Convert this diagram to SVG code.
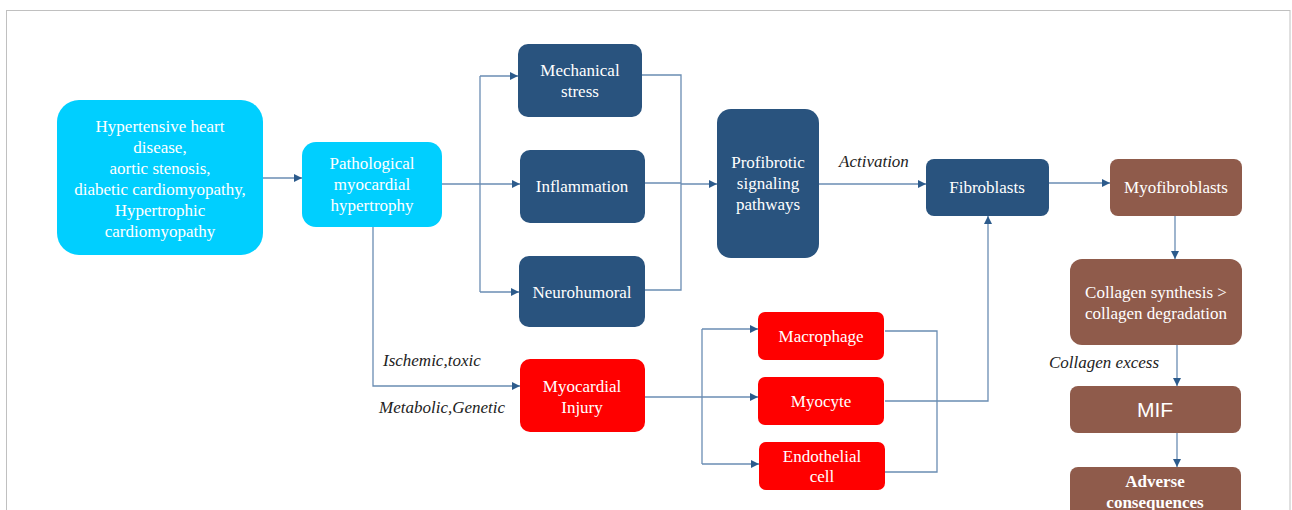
<svg xmlns="http://www.w3.org/2000/svg" width="1292" height="510" viewBox="0 0 1292 510">
<defs>
<marker id="ah" viewBox="0 0 10 10" refX="10" refY="5" markerWidth="8" markerHeight="8" markerUnits="userSpaceOnUse" orient="auto">
<path d="M0,0 L10,5 L0,10 z" fill="#2c5b8c"/>
</marker>
<style>
.t{font-family:"Liberation Serif","Times New Roman",serif;font-size:17px;fill:#fff;text-anchor:middle}
.it{font-family:"Liberation Serif","Times New Roman",serif;font-size:17px;font-style:italic;fill:#222}
.cy{fill:#00cfff}
.db{fill:#29537e}
.rd{fill:#ff0000}
.br{fill:#8f5b4b}
.c{fill:none;stroke:#6a8db3;stroke-width:1.3}
.a{marker-end:url(#ah)}
</style>
</defs>
<rect x="6.5" y="10.5" width="1283.5" height="510" fill="#fff" stroke="#c0c0c0" stroke-width="1"/>

<g id="connectors">
<path class="c a" d="M263,178 L302,178"/>
<path class="c" d="M442,184 L480,184"/>
<path class="c" d="M480,76 L480,292"/>
<path class="c a" d="M480,76 L518,76"/>
<path class="c a" d="M480,184 L520,184"/>
<path class="c a" d="M480,292 L519,292"/>
<path class="c" d="M642,75 L681,75 L681,290 L645,290"/>
<path class="c" d="M645,183 L681,183"/>
<path class="c a" d="M681,184 L717,184"/>
<path class="c a" d="M819,184 L926,184"/>
<path class="c a" d="M1049,183 L1110,183"/>
<path class="c a" d="M1175,216 L1175,259"/>
<path class="c a" d="M1177,345 L1177,386"/>
<path class="c a" d="M1177,427 L1177,467"/>
<path class="c a" d="M373,227 L373,386 L520,386"/>
<path class="c" d="M645,397 L702,397"/>
<path class="c" d="M702,329 L702,464"/>
<path class="c a" d="M702,329 L758,329"/>
<path class="c a" d="M702,397 L758,397"/>
<path class="c a" d="M702,464 L759,464"/>
<path class="c" d="M885,331 L937,331 L937,472 L885,472"/>
<path class="c a" d="M885,401 L988,401 L988,216"/>
</g>

<g id="n_hhd">
<rect class="cy" x="57" y="100" width="206" height="155" rx="22"/>
<text class="t" x="160" y="132">Hypertensive heart</text>
<text class="t" x="160" y="153">disease,</text>
<text class="t" x="160" y="174">aortic stenosis,</text>
<text class="t" x="160" y="195">diabetic cardiomyopathy,</text>
<text class="t" x="160" y="216">Hypertrophic</text>
<text class="t" x="160" y="237">cardiomyopathy</text>
</g>
<g id="n_pmh">
<rect class="cy" x="302" y="142" width="140" height="85" rx="14"/>
<text class="t" x="372" y="169">Pathological</text>
<text class="t" x="372" y="190">myocardial</text>
<text class="t" x="372" y="211">hypertrophy</text>
</g>
<g id="n_mech">
<rect class="db" x="518" y="44" width="124" height="73" rx="10"/>
<text class="t" x="580" y="76">Mechanical</text>
<text class="t" x="580" y="97">stress</text>
</g>
<g id="n_infl">
<rect class="db" x="520" y="150" width="125" height="73" rx="10"/>
<text class="t" x="582" y="192">Inflammation</text>
</g>
<g id="n_neuro">
<rect class="db" x="519" y="256" width="126" height="71" rx="10"/>
<text class="t" x="582" y="298">Neurohumoral</text>
</g>
<g id="n_prof">
<rect class="db" x="717" y="109" width="102" height="149" rx="14"/>
<text class="t" x="768" y="168">Profibrotic</text>
<text class="t" x="768" y="189">signaling</text>
<text class="t" x="768" y="210">pathways</text>
</g>
<text class="it" x="839" y="167">Activation</text>
<g id="n_fib">
<rect class="db" x="926" y="159" width="123" height="57" rx="8"/>
<text class="t" x="987" y="193">Fibroblasts</text>
</g>
<g id="n_myofib">
<rect class="br" x="1110" y="159" width="132" height="57" rx="8"/>
<text class="t" x="1176" y="193">Myofibroblasts</text>
</g>
<g id="n_coll">
<rect class="br" x="1070" y="259" width="172" height="86" rx="12"/>
<text class="t" x="1156" y="298">Collagen synthesis &gt;</text>
<text class="t" x="1156" y="319">collagen degradation</text>
</g>
<text class="it" x="1049" y="368">Collagen excess</text>
<g id="n_mif">
<rect class="br" x="1070" y="386" width="171" height="47" rx="8"/>
<text x="1155" y="417" style="font-family:'Liberation Sans',Arial,sans-serif;font-size:21px;fill:#fff;text-anchor:middle">MIF</text>
</g>
<g id="n_adverse">
<rect class="br" x="1070" y="467" width="171" height="60" rx="8"/>
<text class="t" x="1155" y="487" font-weight="bold">Adverse</text>
<text class="t" x="1155" y="508" font-weight="bold">consequences</text>
</g>
<text class="it" x="383" y="366">Ischemic,toxic</text>
<text class="it" x="379" y="413">Metabolic,Genetic</text>
<g id="n_injury">
<rect class="rd" x="520" y="359" width="125" height="73" rx="10"/>
<text class="t" x="582" y="392">Myocardial</text>
<text class="t" x="582" y="413">Injury</text>
</g>
<g id="n_macro">
<rect class="rd" x="758" y="312" width="126" height="48" rx="7"/>
<text class="t" x="821" y="342">Macrophage</text>
</g>
<g id="n_myocyte">
<rect class="rd" x="758" y="377" width="126" height="48" rx="7"/>
<text class="t" x="821" y="407">Myocyte</text>
</g>
<g id="n_endo">
<rect class="rd" x="759" y="442" width="126" height="48" rx="7"/>
<text class="t" x="822" y="462">Endothelial</text>
<text class="t" x="822" y="482">cell</text>
</g>
</svg>
